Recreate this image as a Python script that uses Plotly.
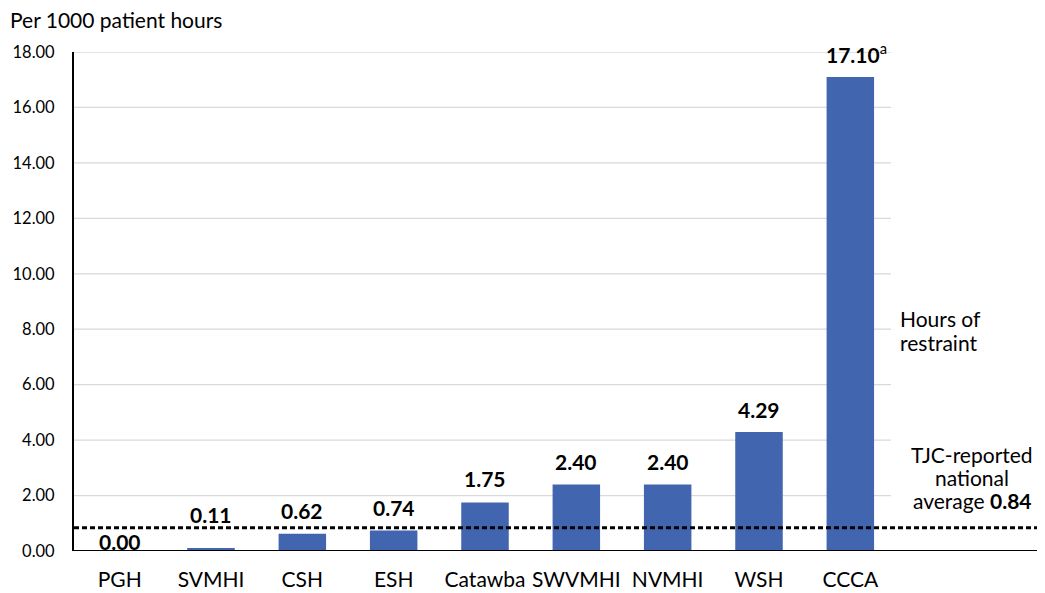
import plotly.graph_objects as go

categories = ["PGH", "SVMHI", "CSH", "ESH", "Catawba", "SWVMHI", "NVMHI", "WSH", "CCCA"]
restraint_hours = [0.00, 0.11, 0.62, 0.74, 1.75, 2.40, 2.40, 4.29, 17.10]
value_labels = ["0.00", "0.11", "0.62", "0.74", "1.75", "2.40", "2.40", "4.29", "17.10"]
label_suffix = ["", "", "", "", "", "", "", "", "<sup>a</sup>"]
national_average = 0.84
y_ticks = [0, 2, 4, 6, 8, 10, 12, 14, 16, 18]
y_tick_labels = ["0.00", "2.00", "4.00", "6.00", "8.00", "10.00", "12.00", "14.00", "16.00", "18.00"]
restraint_lines = ["Hours of", "restraint"]
average_lines = ["TJC-reported", "national", "average <b>%.2f</b>" % national_average]

# style: vertical / horizontal nudges (px) of value labels relative to default placement
label_nudge = [-13, 10, 0, 0, 1, 0, 0, 0, 1]
label_xnudge = [0, 0, 0, 0, 0, 0, 0, 0, 6]

FONT = "Lato, Carlito, Calibri, sans-serif"
BAR = "#4165AF"

# page body has an 8px margin; plot area spans x 74..896, y 52..551 in the screenshot
ML, MT = 66, 44
PW, PH = 822, 499
MR = 1045 - ML - PW
MB = 593 - MT - PH

fig = go.Figure()
fig.add_trace(go.Bar(x=categories, y=restraint_hours, marker=dict(color=BAR, line=dict(width=0)),
                     width=0.52, hoverinfo="skip"))

GRID_END = (891 - 74) / PW
for t in y_ticks[1:]:
    fig.add_shape(type="line", xref="paper", x0=0, x1=GRID_END, yref="y", y0=t, y1=t,
                  line=dict(color="#D9D9D9", width=1.3), layer="below")

XEXT = (1045 - 74) / PW
fig.add_shape(type="line", xref="paper", x0=0, x1=XEXT, yref="y", y0=national_average, y1=national_average,
              line=dict(color="black", width=3, dash="5px,3px"), layer="above")
fig.add_shape(type="line", xref="paper", x0=0, x1=XEXT, yref="y", y0=0, y1=0,
              line=dict(color="black", width=2), layer="above")

for c, v, lab, suf, nd, nx in zip(categories, restraint_hours, value_labels, label_suffix, label_nudge, label_xnudge):
    fig.add_annotation(x=c, y=v, xref="x", yref="y", text="<b>" + lab + "</b>" + suf,
                       showarrow=False, yanchor="middle", yshift=23 + nd, xshift=nx,
                       font=dict(family=FONT, size=21, color="black"))

fig.add_annotation(xref="paper", yref="paper", x=(8 - 74) / PW, y=1 + (52 - 19) / PH,
                   xanchor="left", yanchor="middle",
                   text="Per 1000 patient hours", showarrow=False,
                   font=dict(family=FONT, size=21, color="black"))

for i, line in enumerate(restraint_lines):
    fig.add_annotation(xref="paper", yref="paper", x=1 + 2 / PW, y=(551 - 318 - 24 * i) / PH,
                       xanchor="left", yanchor="middle", text=line, showarrow=False,
                       font=dict(family=FONT, size=21, color="black"))

for i, line in enumerate(average_lines):
    fig.add_annotation(xref="paper", yref="paper", x=1 + 76 / PW, y=(551 - 454 - 23 * i) / PH,
                       xanchor="center", yanchor="middle", text=line, showarrow=False,
                       font=dict(family=FONT, size=21, color="black"))

fig.update_layout(
    width=1045, height=593,
    margin=dict(l=ML, r=MR, t=MT, b=MB, autoexpand=False),
    plot_bgcolor="white", paper_bgcolor="white",
    showlegend=False, bargap=0.48,
    font=dict(family=FONT, color="black"),
    xaxis=dict(range=[-0.5, 8.5], showline=False, showgrid=False, zeroline=False, automargin=False,
               ticks="", tickfont=dict(family=FONT, size=21, color="black"), ticklabelstandoff=14),
    yaxis=dict(range=[0, 18], tickvals=y_ticks, ticktext=y_tick_labels, showgrid=False, zeroline=False,
               showline=True, linecolor="black", linewidth=2, ticks="", automargin=False,
               tickfont=dict(family=FONT, size=16.5, color="black"), ticklabelstandoff=14),
)

fig.write_html("out.html")
